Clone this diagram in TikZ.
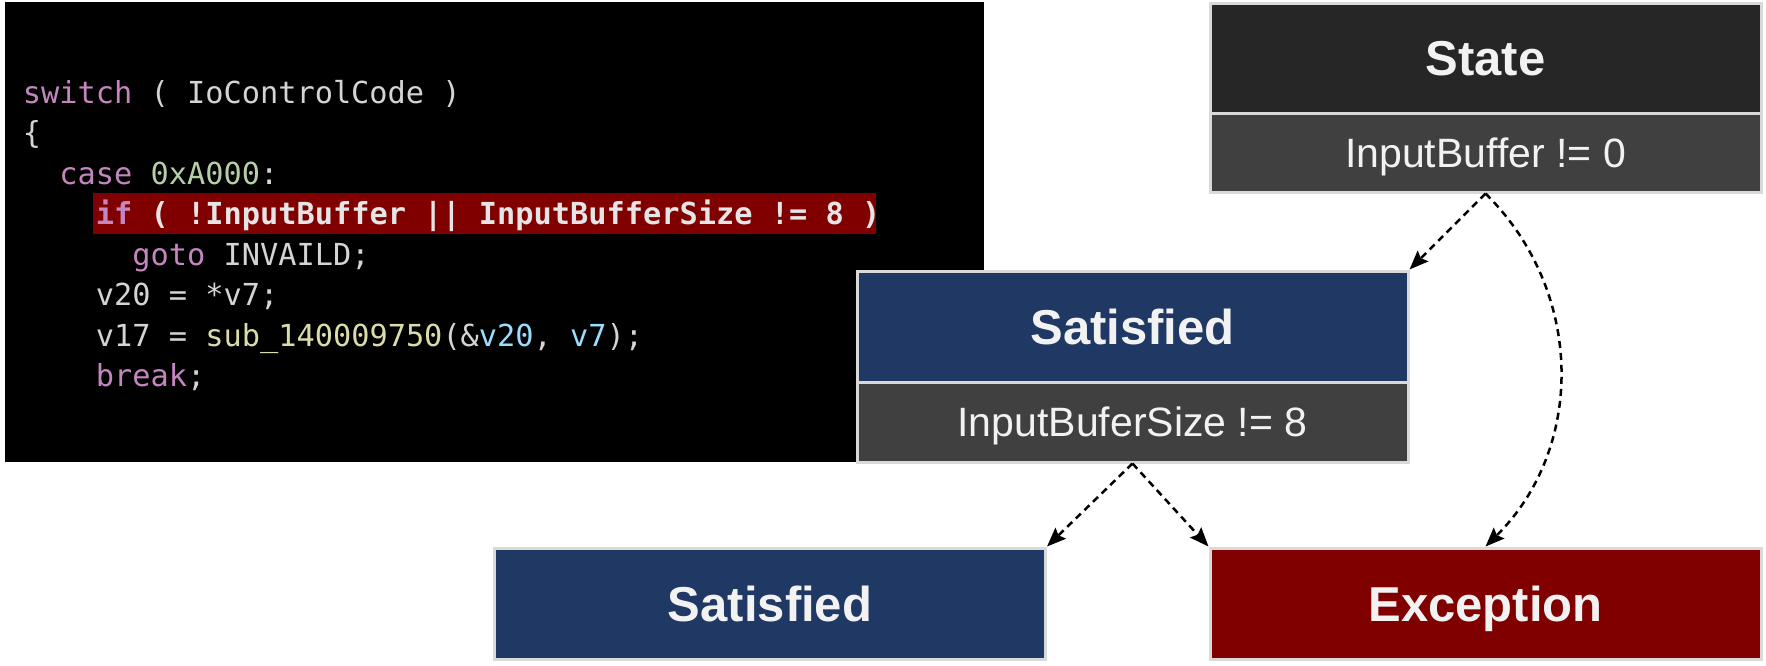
\documentclass[tikz,border=0pt]{standalone}
\usepackage{fontspec}
\usetikzlibrary{arrows.meta}
\newfontfamily\codefont{DejaVu Sans Mono}
\newfontfamily\boxfont{Liberation Sans}
\definecolor{kwc}{HTML}{C586C0}
\definecolor{numc}{HTML}{B5CEA8}
\definecolor{fnc}{HTML}{DCDCAA}
\definecolor{varc}{HTML}{9CDCFE}
\definecolor{plainc}{HTML}{D4D4D4}
\definecolor{hlc}{HTML}{800000}
\definecolor{stateT}{HTML}{262626}
\definecolor{subC}{HTML}{404040}
\definecolor{satC}{HTML}{203864}
\definecolor{excC}{HTML}{800000}
\definecolor{borderC}{HTML}{D9D9D9}
\definecolor{boxtext}{HTML}{F2F2F2}
\newcommand\kwd[1]{\textcolor{kwc}{#1}}
\newcommand\numd[1]{\textcolor{numc}{#1}}
\newcommand\fnd[1]{\textcolor{fnc}{#1}}
\newcommand\vard[1]{\textcolor{varc}{#1}}
\begin{document}
\begin{tikzpicture}[x=1pt,y=-1pt,
  codeline/.style={anchor=base west, inner sep=0pt, text=plainc,
    font=\codefont\fontsize{30.3}{36}\selectfont\frenchspacing},
  boxbase/.style={draw=borderC, line width=3pt, inner sep=0pt,
    minimum width=551pt, text=boxtext},
  titlebox/.style={boxbase, minimum height=110pt,
    font=\boxfont\bfseries\fontsize{49}{58}\selectfont,
    text height=35pt, text depth=0pt},
  subbox/.style={boxbase, fill=subC,
    font=\boxfont\fontsize{41}{49}\selectfont,
    text height=29.4pt, text depth=0pt},
  flow/.style={draw=black, line width=2.5pt, dash pattern=on 7pt off 5pt,
    -{Stealth[length=19pt,width=15pt,inset=3pt]}}
]
\useasboundingbox (0,0) rectangle (1766,665);
% code panel
\node[fill=black, inner sep=0pt, minimum width=979pt, minimum height=460pt] (code) at (494.5,232) {};
\fill[hlc] (93,193) rectangle (876,234);
\node[codeline] (l1) at (22.7,103.3) {\kwd{switch} ( IoControlCode )};
\node[codeline] (l2) at (22.7,143.8) {\{};
\node[codeline] (l3) at (59.2,184.3) {\kwd{case} \numd{0xA000}:};
\node[codeline, font=\codefont\bfseries\fontsize{30.3}{36}\selectfont\frenchspacing, text=white!90!black] (l4) at (95.7,224.8) {\kwd{if} ( !InputBuffer || InputBufferSize != 8 )};
\node[codeline] (l5) at (132.2,265.3) {\kwd{goto} INVAILD;};
\node[codeline] (l6) at (95.7,305.8) {v20 = *v7;};
\node[codeline] (l7) at (95.7,346.3) {v17 = \fnd{sub\_140009750}(\&\vard{v20}, \vard{v7});};
\node[codeline] (l8) at (95.7,386.8) {\kwd{break};};
% state box
\node[titlebox, fill=stateT] (stT) at (1485.5,58) {State};
\node[subbox, minimum height=79pt] (stS) at (1485.5,152.5) {InputBuffer != 0};
% satisfied middle
\node[titlebox, fill=satC, minimum height=111pt] (saT) at (1132.5,326.5) {Satisfied};
\node[subbox, minimum height=80pt] (saS) at (1132.5,422) {InputBuferSize != 8};
% bottom boxes
\node[titlebox, fill=satC, minimum height=111pt] (sb) at (770,603.5) {Satisfied};
\node[titlebox, fill=excC, minimum height=111pt] (ex) at (1485.5,603.5) {Exception};
% connectors
\draw[flow] (stS.south) -- (saT.north east);
\draw[flow] (stS.south) .. controls (1585,292) and (1585,448) .. (ex.north);
\draw[flow] (saS.south) -- (sb.north east);
\draw[flow] (saS.south) -- (ex.north west);
\end{tikzpicture}
\end{document}
